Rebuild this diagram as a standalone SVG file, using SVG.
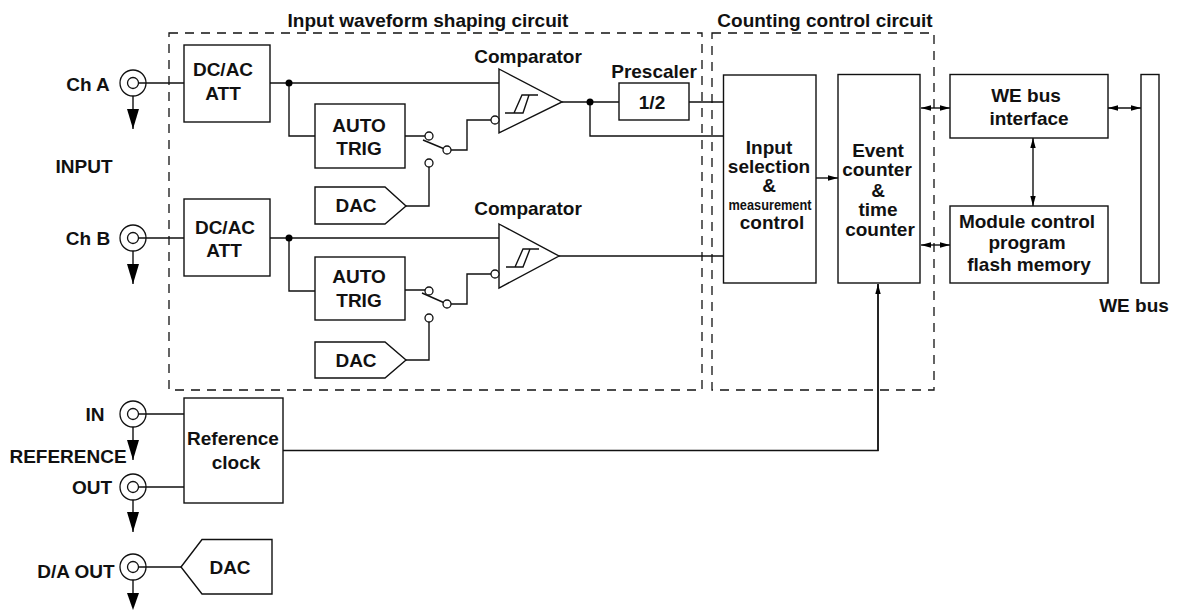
<svg xmlns="http://www.w3.org/2000/svg" width="1178" height="610" viewBox="0 0 1178 610">
<defs>
<marker id="big" markerUnits="userSpaceOnUse" markerWidth="20" markerHeight="12" refX="20" refY="6" orient="auto"><path d="M0 0L20 6L0 12Z" fill="#000"/></marker>
<marker id="a" markerUnits="userSpaceOnUse" markerWidth="10" markerHeight="6" refX="10" refY="3" orient="auto-start-reverse"><path d="M0 0.3L10 3L0 5.7Z" fill="#000"/></marker>
</defs>
<style>
text{font-family:"Liberation Sans",Arial,sans-serif;font-weight:700;font-size:19px;fill:#111;text-anchor:middle}
.b{fill:#fff;stroke:#111;stroke-width:1.4}
.w{fill:none;stroke:#111;stroke-width:1.4}
.d{fill:none;stroke:#111;stroke-width:1.3;stroke-dasharray:9 7}
.o{fill:#fff;stroke:#111;stroke-width:1.3}
.r{fill:none;stroke:#111;stroke-width:1.3}
.k{fill:#000}
</style>
<g id="connectors">
<path class="w" d="M139 83H184M270 83H500M289 83V136H315M405 136H429M451 150H467V120H491M562 102H619M689 102H724M590 102V136H724"/>
<path class="w" d="M139 238H184M270 238H500M289 238V291H315M405 290H429M451 304H467V274H491M559 256H724M406 206H429V167M406 360H429V322"/>
<path class="w" d="M139 414H184M283 450.500H878V284M139 487H184M139 567H181"/>
<path class="w" d="M133 96V129" marker-end="url(#big)"/>
<path class="w" d="M133 251V284" marker-end="url(#big)"/>
<path class="w" d="M133 427V460" marker-end="url(#big)"/>
<path class="w" d="M133 500V532" marker-end="url(#big)"/>
<path class="w" d="M133 580V595"/>
<path class="k" d="M127 593H139L133 610Z"/>
<path class="w" d="M816 178H838" marker-end="url(#a)"/>
<path class="w" d="M921 108H950" marker-start="url(#a)" marker-end="url(#a)"/>
<path class="w" d="M921 245H950" marker-start="url(#a)" marker-end="url(#a)"/>
<path class="w" d="M1108 108H1141" marker-start="url(#a)" marker-end="url(#a)"/>
<path class="w" d="M1033 138V206" marker-start="url(#a)" marker-end="url(#a)"/>
<path class="w" d="M878 451V284" marker-end="url(#a)"/>
<rect class="d" x="169" y="33" width="533" height="357"/>
<rect class="d" x="712" y="33" width="222" height="357"/>
<circle class="k" cx="289" cy="83" r="3.5"/><circle class="k" cx="289" cy="238" r="3.500"/><circle class="k" cx="590" cy="102" r="3.500"/>
<path class="w" d="M423 140L447 150M422 293L447 304"/>
</g>
<g id="ch-a-jack"><circle class="r" cx="133" cy="83" r="13"/><circle class="o" cx="133" cy="83" r="5.500"/><text x="88" y="91">Ch A</text></g>
<g id="ch-b-jack"><circle class="r" cx="133" cy="238" r="13"/><circle class="o" cx="133" cy="238" r="5.500"/><text x="88" y="245">Ch B</text></g>
<g id="input-label"><text x="84" y="173">INPUT</text></g>
<g id="in-jack"><circle class="r" cx="133" cy="414" r="13"/><circle class="o" cx="133" cy="414" r="5.500"/><text x="95" y="421">IN</text></g>
<g id="reference-label"><text x="68" y="463">REFERENCE</text></g>
<g id="out-jack"><circle class="r" cx="133" cy="487" r="13"/><circle class="o" cx="133" cy="487" r="5.500"/><text x="92" y="494">OUT</text></g>
<g id="da-out-jack"><circle class="r" cx="133" cy="567" r="13"/><circle class="o" cx="133" cy="567" r="5.500"/><text x="76" y="578">D/A OUT</text></g>
<g id="att-a"><rect class="b" x="184" y="45" width="86" height="77"/><text x="223" y="76">DC/AC</text><text x="223" y="100">ATT</text></g>
<g id="att-b"><rect class="b" x="184" y="199" width="86" height="77"/><text x="225" y="234">DC/AC</text><text x="224" y="257">ATT</text></g>
<g id="auto-a"><rect class="b" x="315" y="104" width="90" height="64"/><text x="359" y="132">AUTO</text><text x="359" y="155">TRIG</text></g>
<g id="auto-b"><rect class="b" x="315" y="257" width="90" height="63"/><text x="359" y="283">AUTO</text><text x="359" y="307">TRIG</text></g>
<g id="dac-a"><path class="b" d="M315 187H385L406 206L385 224H315Z"/><text x="356" y="212">DAC</text></g>
<g id="dac-b"><path class="b" d="M315 342H385L406 360L385 378H315Z"/><text x="356" y="367">DAC</text></g>
<g id="comparator-a"><path class="b" d="M499 69L562 102L499 133Z"/><path class="w" d="M505 113H523L529 95M514 113L522 95H538"/><text x="528" y="63">Comparator</text></g>
<g id="comparator-b"><path class="b" d="M499 224L559 256L499 288Z"/><path class="w" d="M506 267H523L530 249M515 267L523 249H539"/><text x="528" y="215">Comparator</text></g>
<g id="switch-a"><circle class="o" cx="429" cy="136" r="4"/><circle class="o" cx="447" cy="150" r="4"/><circle class="o" cx="429" cy="163" r="4"/><circle class="o" cx="495" cy="120" r="4"/></g>
<g id="switch-b"><circle class="o" cx="429" cy="291" r="4"/><circle class="o" cx="447" cy="304" r="4"/><circle class="o" cx="429" cy="318" r="4"/><circle class="o" cx="495" cy="274" r="4"/></g>
<g id="prescaler"><rect class="b" x="619" y="83" width="70" height="37"/><text x="654" y="78">Prescaler</text><text x="652" y="109">1/2</text></g>
<g id="input-selection"><rect class="b" x="723.500" y="75" width="92.500" height="208"/><text x="769" y="154">Input</text><text x="769" y="173">selection</text><text x="769" y="192">&amp;</text><text x="770" y="210" style="font-size:15px" textLength="83" lengthAdjust="spacingAndGlyphs">measurement</text><text x="772" y="229">control</text></g>
<g id="event-counter"><rect class="b" x="838" y="74.500" width="82" height="208.500"/><text x="878" y="157">Event</text><text x="877" y="176">counter</text><text x="878" y="197">&amp;</text><text x="878" y="216">time</text><text x="880" y="236">counter</text></g>
<g id="we-bus-interface"><rect class="b" x="950" y="74.500" width="158" height="63.500"/><text x="1026" y="102">WE bus</text><text x="1029" y="125">interface</text></g>
<g id="flash-memory"><rect class="b" x="950" y="206" width="158" height="77"/><text x="1027" y="228">Module control</text><text x="1027" y="249">program</text><text x="1029" y="271">flash memory</text></g>
<g id="we-bus"><rect class="b" x="1141" y="74.500" width="18" height="208.500"/><text x="1134" y="312">WE bus</text></g>
<g id="reference-clock"><rect class="b" x="184" y="398" width="99" height="105"/><text x="233" y="445">Reference</text><text x="236" y="469">clock</text></g>
<g id="dac-out"><path class="b" d="M181 567L202 539.500H272V594H202Z"/><text x="230" y="574">DAC</text></g>
<g id="titles"><text x="428" y="27">Input waveform shaping circuit</text><text x="825" y="27">Counting control circuit</text></g>
</svg>
